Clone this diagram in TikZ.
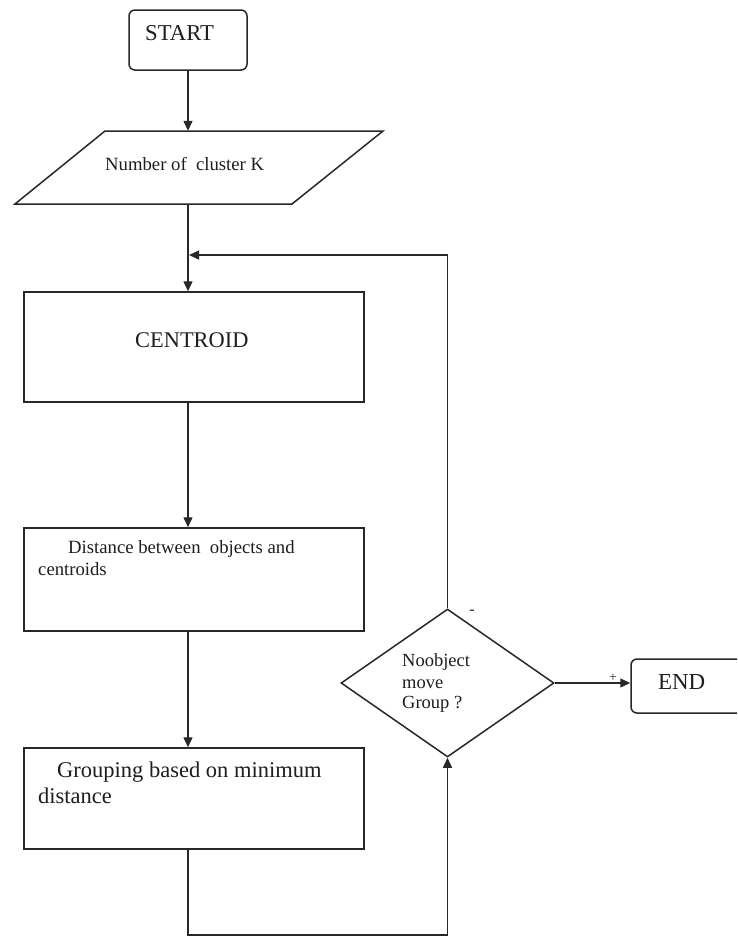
\documentclass[tikz,border=0pt]{standalone}
\usepackage{fontspec}
\setmainfont{Liberation Serif}
\usetikzlibrary{shapes.geometric,arrows.meta}
\definecolor{ink}{RGB}{40,40,40}
\definecolor{txt}{RGB}{30,30,30}
\tikzset{
  box/.style={draw=ink,line width=1.5pt,rectangle,inner sep=0pt},
  rbox/.style={box,rounded corners=6pt},
  lbl/.style={anchor=base west,inner sep=0pt,text=txt},
  conn/.style={draw=ink,line width=1.4pt},
  arr/.style={conn,-{Triangle[length=10pt,width=9pt]}}
}
\begin{document}
\begin{tikzpicture}[x=1pt,y=-1pt]
\clip (0,0) rectangle (737,937);
\fill[white] (0,0) rectangle (737,937);
% boxes
\node[rbox,minimum width=118pt,minimum height=60pt] (start) at (188,40) {};
\node[box,minimum width=340pt,minimum height=110pt] (centroid) at (194,347) {};
\node[box,minimum width=340pt,minimum height=103pt] (dist) at (194,579.5) {};
\node[box,minimum width=340pt,minimum height=101pt] (group) at (194,798.5) {};
\node[draw=ink,line width=1.5pt,diamond,inner sep=0pt,minimum width=213pt,minimum height=148pt] (dia) at (447.5,683) {};
\node[rbox,minimum width=128pt,minimum height=54pt] (endb) at (695,686) {};
% parallelogram
\node[inner sep=0pt,minimum width=188pt,minimum height=73pt] (inp) at (199,167.5) {};
\draw[draw=ink,line width=1.5pt] (105,131) -- (383,131) -- (292,204) -- (15,204) -- cycle;
% texts
\node[lbl,font=\fontsize{22.7}{26}\selectfont] (tstart) at (145,40) {START};
\node[lbl,font=\fontsize{18.7}{22}\selectfont] (tinp) at (105,170) {Number of\ \ cluster K};
\node[lbl,font=\fontsize{22.4}{26}\selectfont] (tcen) at (135,347) {CENTROID};
\node[lbl,font=\fontsize{18.7}{22}\selectfont] (tdist1) at (68,553) {Distance between\ \ objects and};
\node[lbl,font=\fontsize{18.7}{22}\selectfont] (tdist2) at (38,575) {centroids};
\node[lbl,font=\fontsize{22.5}{26}\selectfont] (tgrp1) at (57,777) {Grouping based on minimum};
\node[lbl,font=\fontsize{22.5}{26}\selectfont] (tgrp2) at (38,803) {distance};
\node[lbl,font=\fontsize{18.5}{22}\selectfont] (td1) at (402,666) {Noobject};
\node[lbl,font=\fontsize{18.5}{22}\selectfont] (td2) at (402,688) {move};
\node[lbl,font=\fontsize{18.5}{22}\selectfont] (td3) at (402,708) {Group ?};
\node[lbl,font=\fontsize{22.9}{26}\selectfont] (tend) at (658,689) {END};
\node[text=txt,font=\fontsize{16}{18}\selectfont,inner sep=0pt] (minus) at (472,612) {-};
\node[text=txt,font=\fontsize{13}{14}\selectfont,inner sep=0pt] (plus) at (613,678) {+};
% coordinates
\coordinate (join) at (188,255);
\coordinate (bl) at (188,935);
\coordinate (br) at (447.5,935);
% connectors
\draw[arr] (start.south) -- (start.south |- inp.north);
\draw[arr] (start.south |- inp.south) -- (start.south |- centroid.north);
\draw[arr] (start.south |- centroid.south) -- (start.south |- dist.north);
\draw[arr] (start.south |- dist.south) -- (start.south |- group.north);
\draw[conn] (start.south |- group.south) -- (bl) -- (br);
\draw[arr] (br) -- (dia.south);
\draw[arr] (dia.north) -- (dia.north |- join) -- ([xshift=1pt]join);
\draw[arr] (dia.east) -- (dia.east -| endb.west);
\end{tikzpicture}
\end{document}
